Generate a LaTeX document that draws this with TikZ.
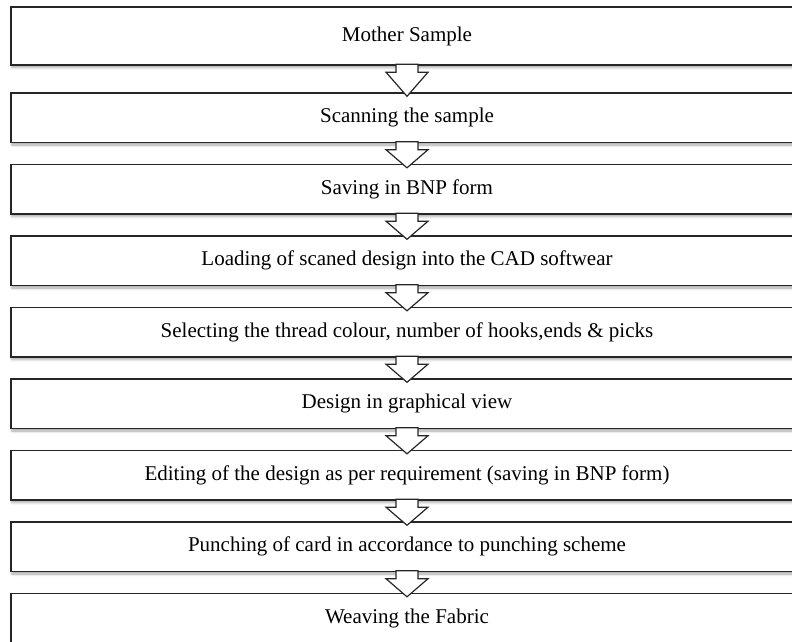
\documentclass[tikz,border=0pt]{standalone}
\usepackage{fontspec}
\setmainfont{Liberation Serif}
\usepackage{tikz}
\usetikzlibrary{calc,positioning,shadows.blur}

\begin{document}
\begin{tikzpicture}[x=1pt,y=-1pt]
                \useasboundingbox (0,0) rectangle (792,641);
                \clip (0,0) rectangle (792,641);
                \begin{scope}[node distance=20.6pt,
                  stage/.style={draw=black!85,line width=1.4pt,fill=white,minimum width=792pt,minimum height=49.5pt,inner sep=0pt,
                    font=\fontsize{21}{24}\selectfont,
                    blur shadow={shadow xshift=1pt,shadow yshift=-2.5pt,shadow blur radius=2.5pt,shadow opacity=35}},
                  flow/.style={draw=black!85,line width=1.2pt,line join=miter}]
                \node[stage,minimum height=58pt] (s1) at (407,36) {Mother Sample};
                \node[stage] (s2) [below=26.6pt of s1] {Scanning the sample};
                \node[stage] (s3) [below=of s2] {Saving in BNP form};
                \node[stage] (s4) [below=of s3] {Loading of scaned design into the CAD softwear};
                \node[stage] (s5) [below=of s4] {Selecting the thread colour, number of hooks,ends \& picks};
                \node[stage] (s6) [below=of s5] {Design in graphical view};
                \node[stage] (s7) [below=of s6] {Editing of the design as per requirement (saving in BNP form)};
                \node[stage] (s8) [below=of s7] {Punching of card in accordance to punching scheme};
                \node[stage] (s9) [below=of s8] {Weaving the Fabric};
                % hollow block arrows between the stages
                \foreach \a/\b in {s1/s2,s2/s3,s3/s4,s4/s5,s5/s6,s6/s7,s7/s8,s8/s9}{
                  \path let \p1=(\a.south), \p2=(\b.north) in
                    [fill=white] (\x1-11pt,\y1+1.5pt) -- (\x1-11pt,\y1-6.5pt) -- (\x1-21pt,\y1-6.5pt) -- (\x2,\y2-4pt)
                      -- (\x1+21pt,\y1-6.5pt) -- (\x1+11pt,\y1-6.5pt) -- (\x1+11pt,\y1+1.5pt) -- cycle
                    [flow] (\x1-11pt,\y1) -- (\x1-11pt,\y1-6.5pt) -- (\x1-21pt,\y1-6.5pt) -- (\x2,\y2-4pt)
                      -- (\x1+21pt,\y1-6.5pt) -- (\x1+11pt,\y1-6.5pt) -- (\x1+11pt,\y1);
                }
                \end{scope}
\end{tikzpicture}
\end{document}
